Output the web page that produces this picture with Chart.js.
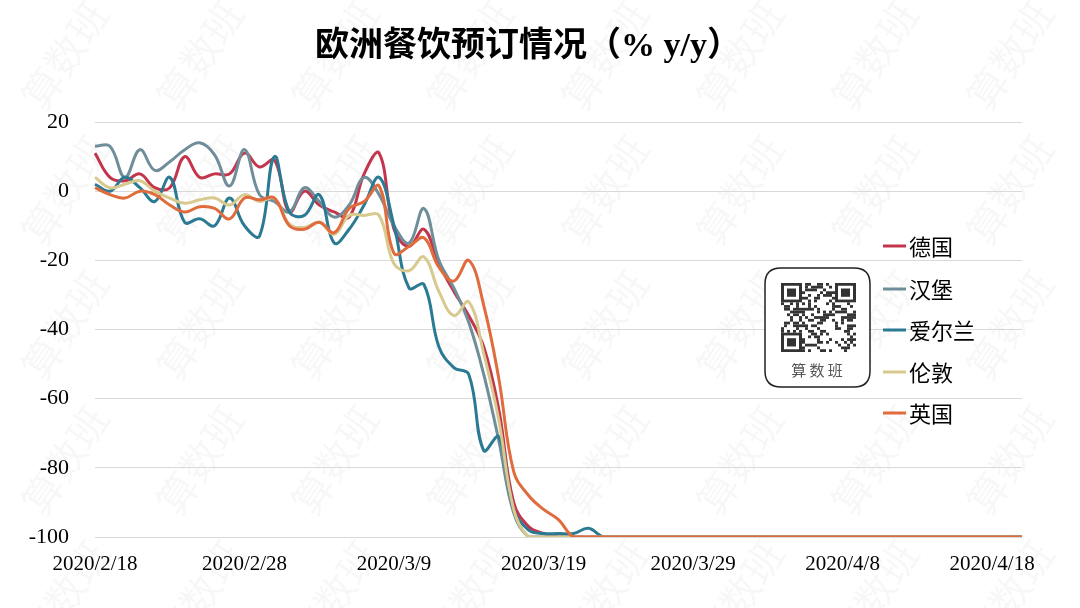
<!DOCTYPE html>
<html><head><meta charset="utf-8">
<script src="https://cdn.jsdelivr.net/npm/chart.js@4/dist/chart.umd.min.js"></script>
<style>html,body{margin:0;padding:0;background:#fff;}#wrap{width:1080px;height:608px;}</style>
</head><body><div id="wrap"><canvas id="c" width="1080" height="608"></canvas></div>
<script>
const titleText = '欧洲餐饮预订情况（% y/y）';
const labels = ['2020/2/18','2020/2/19','2020/2/20','2020/2/21','2020/2/22','2020/2/23','2020/2/24','2020/2/25','2020/2/26','2020/2/27','2020/2/28','2020/2/29',
'2020/3/1','2020/3/2','2020/3/3','2020/3/4','2020/3/5','2020/3/6','2020/3/7','2020/3/8','2020/3/9','2020/3/10','2020/3/11','2020/3/12','2020/3/13','2020/3/14','2020/3/15','2020/3/16','2020/3/17','2020/3/18','2020/3/19','2020/3/20','2020/3/21','2020/3/22','2020/3/23','2020/3/24','2020/3/25','2020/3/26','2020/3/27','2020/3/28','2020/3/29','2020/3/30','2020/3/31',
'2020/4/1','2020/4/2','2020/4/3','2020/4/4','2020/4/5','2020/4/6','2020/4/7','2020/4/8','2020/4/9','2020/4/10','2020/4/11','2020/4/12','2020/4/13','2020/4/14','2020/4/15','2020/4/16','2020/4/17','2020/4/18','2020/4/19','2020/4/20'];
const tickLabels = ['2020/2/18','2020/2/28','2020/3/9','2020/3/19','2020/3/29','2020/4/8','2020/4/18'];
const yTicks = [20,0,-20,-40,-60,-80,-100];
const seriesNames = ['德国','汉堡','爱尔兰','伦敦','英国'];
const germany = [11,4,3,5,1,1,10,4,5,5,11,7,9,-6,0,-4,-6,-7.5,5,11,-11,-16,-11,-21,-29,-36,-45,-63,-90,-97,-99,-100,
-100,-100,-100,-100,-100,-100,-100,-100,-100,-100,-100,-100,-100,-100,-100,-100,-100,-100,-100,-100,-100,-100,-100,-100,-100,-100,-100,-100,-100,-100,-100];
const hamburg = [13,13,4,12,6,8.5,12,14,10.5,1.5,12,-1,-3,-6,1,-3,-7.5,-4,4,-1,-10,-15,-5,-20,-28,-38,-53,-72,-93,-100,-100,-100,
-100,-100,-100,-100,-100,-100,-100,-100,-100,-100,-100,-100,-100,-100,-100,-100,-100,-100,-100,-100,-100,-100,-100,-100,-100,-100,-100,-100,-100,-100,-100];
const ireland = [2,0,4,1,-3,4,-9,-8,-10,-2,-10,-13,10,-6,-7,-1,-15,-11,-4,4,-10,-28,-27,-45,-51,-53,-75,-71,-92,-98,-99,-99,
-99,-97.5,-100,-100,-100,-100,-100,-100,-100,-100,-100,-100,-100,-100,-100,-100,-100,-100,-100,-100,-100,-100,-100,-100,-100,-100,-100,-100,-100,-100,-100];
const london = [4,1,2,3,0,-2,-3.5,-2.5,-2,-4,-1,-3,-2,-9.5,-10.5,-9,-12.5,-7,-7,-7,-21,-23,-19,-29,-36,-32,-47,-66,-92,-100,-100,-100,
-100,-100,-100,-100,-100,-100,-100,-100,-100,-100,-100,-100,-100,-100,-100,-100,-100,-100,-100,-100,-100,-100,-100,-100,-100,-100,-100,-100,-100,-100,-100];
const uk = [1,-1,-2,0,-1,-4,-6,-4.5,-5,-8,-2,-2.5,-2,-10,-11,-9,-12,-5,-3,1.5,-18,-16,-13.5,-22,-26,-20,-33,-54,-81,-88,-92,-95,
-100,-100,-100,-100,-100,-100,-100,-100,-100,-100,-100,-100,-100,-100,-100,-100,-100,-100,-100,-100,-100,-100,-100,-100,-100,-100,-100,-100,-100,-100,-100];
const colors = ['#c3354c','#6f8e99','#2b7a93','#d8c98e','#e06b3c'];
const allSeries = [germany, hamburg, ireland, london, uk];

const serif = '"Liberation Serif", "Times New Roman", serif';
const cjk = '"Noto Sans CJK SC", sans-serif';

const decoPlugin = {
  id: 'deco',
  beforeDraw(chart) {
    const ctx = chart.ctx;
    ctx.save();
    ctx.fillStyle = '#fff';
    ctx.fillRect(0, 0, chart.width, chart.height);
    ctx.font = '40px ' + cjk;
    ctx.fillStyle = 'rgba(0,0,0,0.03)';
    ctx.textAlign = 'center'; ctx.textBaseline = 'middle';
    for (let r = 0; r < 6; r++) {
      for (let c = 0; c < 9; c++) {
        const x = 65 + c * 135;
        const y = 55 + r * 135;
        ctx.save(); ctx.translate(x, y); ctx.rotate(-Math.PI / 3.2);
        ctx.fillText('算数班', 0, 0);
        ctx.restore();
      }
    }
    ctx.restore();
  },
  afterDraw(chart) {
    const ctx = chart.ctx;
    ctx.save();
    ctx.font = 'bold 34px ' + serif + ', ' + cjk;
    ctx.fillStyle = '#000';
    ctx.textAlign = 'center'; ctx.textBaseline = 'middle';
    ctx.fillText(titleText, 528, 47);
    ctx.font = '22px ' + cjk;
    ctx.textAlign = 'left';
    const ys = [246, 289, 330, 372, 413];
    chart.data.datasets.forEach((ds, i) => {
      ctx.strokeStyle = ds.borderColor; ctx.lineWidth = 3;
      ctx.beginPath(); ctx.moveTo(883, ys[i]); ctx.lineTo(906, ys[i]); ctx.stroke();
      ctx.fillStyle = '#000';
      ctx.fillText(ds.label, 909, ys[i] + 1);
    });
    const bx = 765, by = 268, bw = 105, bh = 119, rr = 16;
    ctx.fillStyle = '#fff';
    ctx.strokeStyle = '#222'; ctx.lineWidth = 1.5;
    ctx.beginPath();
    ctx.moveTo(bx + rr, by); ctx.lineTo(bx + bw - rr, by); ctx.quadraticCurveTo(bx + bw, by, bx + bw, by + rr);
    ctx.lineTo(bx + bw, by + bh - rr); ctx.quadraticCurveTo(bx + bw, by + bh, bx + bw - rr, by + bh);
    ctx.lineTo(bx + rr, by + bh); ctx.quadraticCurveTo(bx, by + bh, bx, by + bh - rr);
    ctx.lineTo(bx, by + rr); ctx.quadraticCurveTo(bx, by, bx + rr, by);
    ctx.closePath(); ctx.fill(); ctx.stroke();
    const qx = 781, qy = 283, n = 25, m = 3;
    ctx.fillStyle = '#333';
    for (let i = 0; i < n; i++) for (let j = 0; j < n; j++) {
      const inF = (i < 7 && j < 7) || (i >= n - 7 && j < 7) || (i < 7 && j >= n - 7);
      if (inF) continue;
      const h = ((i * 31 + j * 17) ^ (i * j * 7 + 3)) % 5;
      if (h < 2) ctx.fillRect(qx + i * m, qy + j * m * 0.92, m, m * 0.92);
    }
    const finder = (fx, fy) => {
      ctx.fillStyle = '#333'; ctx.fillRect(fx, fy, 7 * m, 7 * m * 0.92);
      ctx.fillStyle = '#fff'; ctx.fillRect(fx + m, fy + m * 0.92, 5 * m, 5 * m * 0.92);
      ctx.fillStyle = '#333'; ctx.fillRect(fx + 2 * m, fy + 2 * m * 0.92, 3 * m, 3 * m * 0.92);
    };
    finder(qx, qy); finder(qx + (n - 7) * m, qy); finder(qx, qy + (n - 7) * m * 0.92);
    ctx.fillStyle = '#555';
    ctx.font = '15px ' + cjk;
    ctx.textAlign = 'center';
    ctx.fillText('算 数 班', 817, 370);
    ctx.restore();
  }
};

new Chart(document.getElementById('c'), {
  type: 'line',
  data: {
    labels: labels,
    datasets: allSeries.map((d, i) => ({
      label: seriesNames[i], data: d, borderColor: colors[i], backgroundColor: colors[i],
      borderWidth: 3, pointRadius: 0, fill: false, tension: 0.4,
      order: 5 - i
    }))
  },
  options: {
    responsive: false, animation: false, devicePixelRatio: 1,
    layout: { padding: { top: 122, right: 58, left: 0, bottom: 0 } },
    plugins: { legend: { display: false }, title: { display: false }, tooltip: { enabled: false } },
    scales: {
      x: {
        type: 'category',
        grid: { display: false, drawTicks: false },
        border: { display: false },
        ticks: {
          autoSkip: false, maxRotation: 0, minRotation: 0, padding: 15, color: '#000',
          font: { family: serif, size: 21 },
          callback: function (v, i) { const l = labels[i]; return tickLabels.includes(l) ? l : null; }
        },
        afterFit: s => { s.height = 71; }
      },
      y: {
        min: -100, max: 20,
        afterBuildTicks: s => { s.ticks = yTicks.map(v => ({ value: v })); },
        grid: { color: '#d9d9d9', lineWidth: 1, drawTicks: false },
        border: { display: false },
        ticks: { color: '#000', padding: 26, font: { family: serif, size: 22 } },
        afterFit: s => { s.width = 95; }
      }
    }
  },
  plugins: [decoPlugin]
});
</script></body></html>
